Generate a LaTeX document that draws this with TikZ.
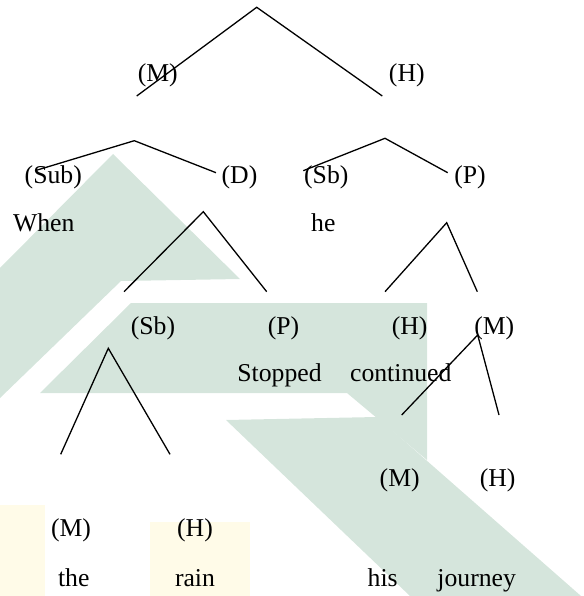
\documentclass[tikz,border=0pt]{standalone}
\usepackage{fontspec}
\setmainfont{Liberation Serif}
\begin{document}
\begin{tikzpicture}[x=1pt,y=-1pt,
  lbl/.style={anchor=base,inner sep=0pt,font=\fontsize{25.7}{30}\selectfont},
  branch/.style={line width=1.3pt,black},
  wmark/.style={fill=wmteal,draw=none},
  wyellow/.style={fill=wmyellow,draw=none}]
\definecolor{wmteal}{RGB}{213,229,220}
\definecolor{wmyellow}{RGB}{255,251,232}
\useasboundingbox (0,0) rectangle (583,596);
% watermark
\fill[wyellow] (0,505) rectangle (45,596);
\fill[wyellow] (150,522) rectangle (250,596);
\fill[wmark] (113,154) -- (240,279) -- (121,281) -- (0,398) -- (0,268) -- cycle;
\fill[wmark] (131,303) -- (427,303) -- (427,460) -- (347,393) -- (40,393) -- cycle;
\fill[wmark] (226,420) -- (377,417) -- (581,596) -- (410,596) -- cycle;
% labels
\node[lbl] (m1) at (157.8,82) {(M)};
\node[lbl] (h1) at (406.8,82) {(H)};
\node[lbl] (sub) at (53.3,183.5) {(Sub)};
\node[lbl] (d) at (239.5,183.5) {(D)};
\node[lbl] (sb1) at (326.3,183.5) {(Sb)};
\node[lbl] (p1) at (470,183.5) {(P)};
\node[lbl] (when) at (43.7,231) {When};
\node[lbl] (he) at (323.3,231) {he};
\node[lbl] (sb2) at (153,334.5) {(Sb)};
\node[lbl] (p2) at (283.5,334.5) {(P)};
\node[lbl] (h2) at (409.7,334.5) {(H)};
\node[lbl] (m2) at (494.3,334.5) {(M)};
\node[lbl] (stopped) at (279.5,381.8) {Stopped};
\node[lbl] (continued) at (400.8,381.8) {continued};
\node[lbl] (m3) at (399.7,486.7) {(M)};
\node[lbl] (h3) at (497.7,486.7) {(H)};
\node[lbl] (m4) at (71,536.7) {(M)};
\node[lbl] (h4) at (195,536.7) {(H)};
\node[lbl] (the) at (73.8,586) {the};
\node[lbl] (rain) at (195,586) {rain};
\node[lbl] (his) at (382.7,586) {his};
\node[lbl] (journey) at (476.7,586) {journey};
% branch points
\coordinate (a1) at (256.7,7.3);
\coordinate (a1l) at (136.7,96);
\coordinate (a1r) at (382.3,96);
\coordinate (a2) at (134.3,140.7);
\coordinate (a2l) at (35,170.7);
\coordinate (a2r) at (216,172.7);
\coordinate (a3) at (385,138.3);
\coordinate (a3l) at (303.3,170.7);
\coordinate (a3r) at (447.7,172.7);
\coordinate (a4) at (203.3,211.7);
\coordinate (a4l) at (124,291.7);
\coordinate (a4r) at (266.7,291.7);
\coordinate (a5) at (446.7,222.7);
\coordinate (a5l) at (385,291.7);
\coordinate (a5r) at (477.3,291.7);
\coordinate (a6) at (477.7,335);
\coordinate (a6l) at (401.7,415);
\coordinate (a6r) at (499,415);
\coordinate (a7) at (108.3,348.3);
\coordinate (a7l) at (60.7,454.3);
\coordinate (a7r) at (170,454.3);
% branches
\draw[branch] (a1l) -- (a1) -- (a1r);
\draw[branch] (a2l) -- (a2) -- (a2r);
\draw[branch] (a3l) -- (a3) -- (a3r);
\draw[branch] (a4l) -- (a4) -- (a4r);
\draw[branch] (a5l) -- (a5) -- (a5r);
\draw[branch] (a6l) -- (a6) -- (a6r);
\draw[branch] (a7l) -- (a7) -- (a7r);
\end{tikzpicture}
\end{document}
